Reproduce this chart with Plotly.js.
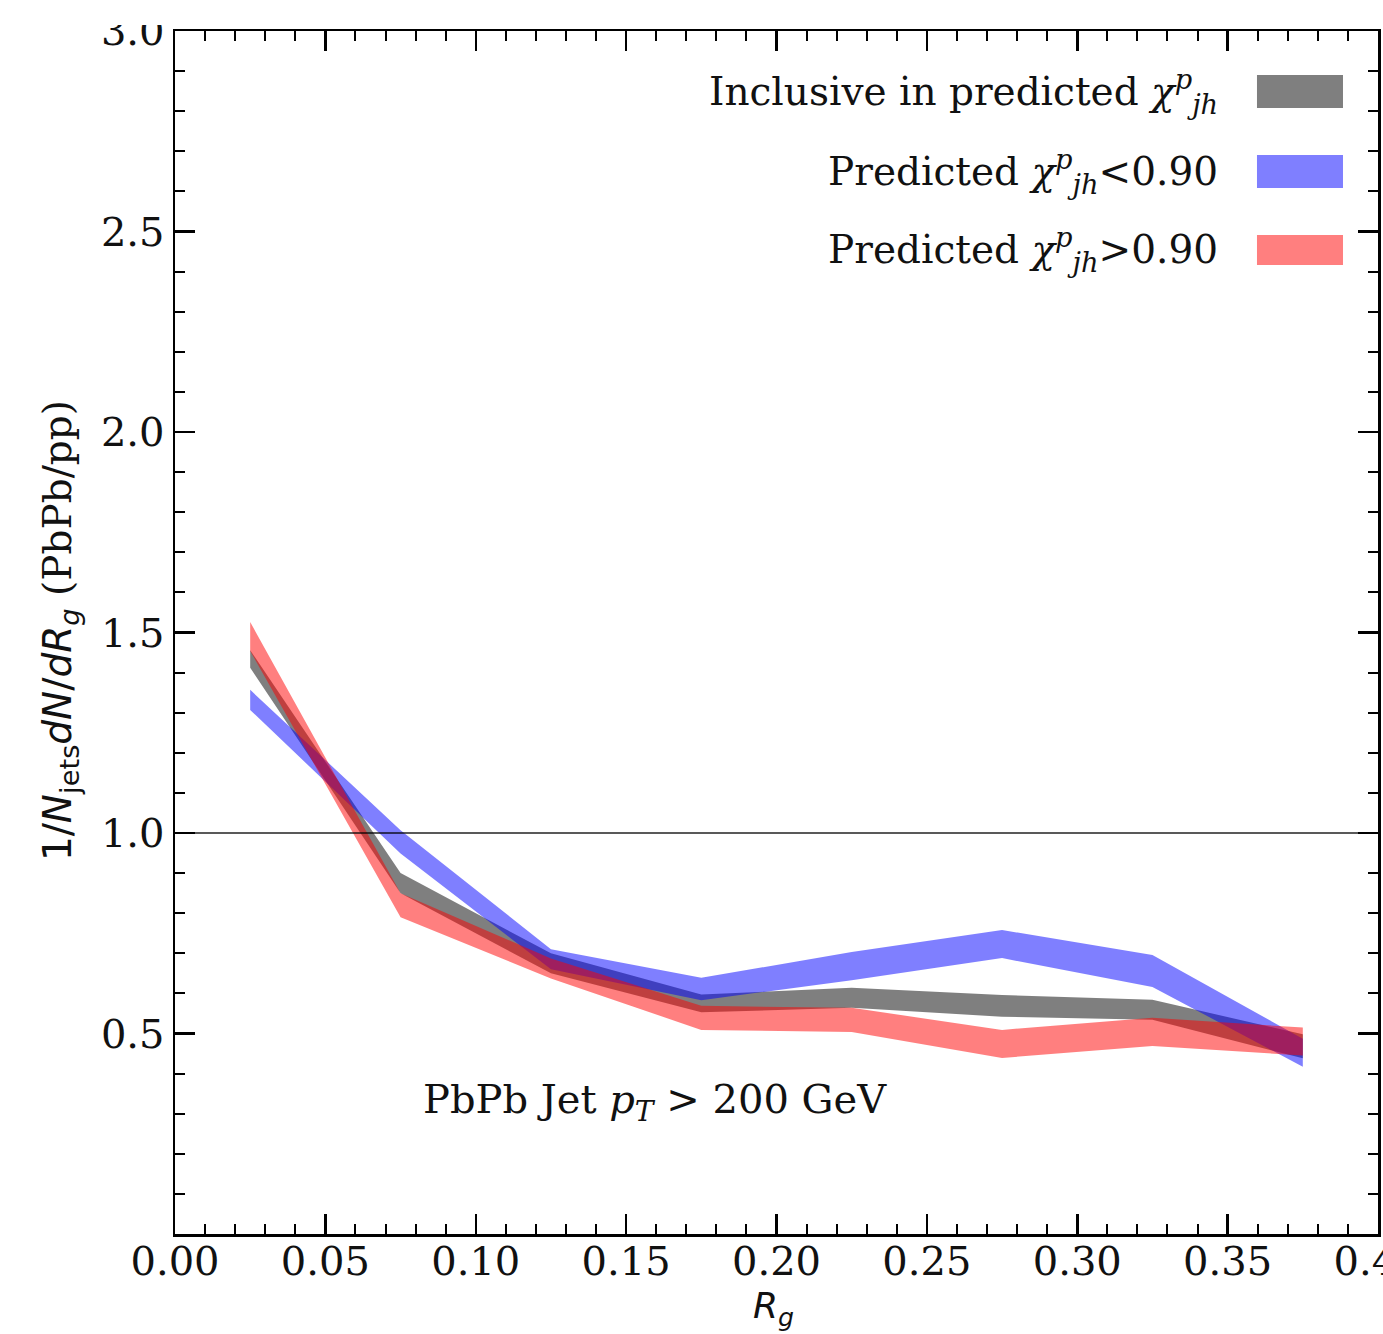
<!DOCTYPE html>
<html>
<head>
<meta charset="utf-8">
<script src="https://cdn.plot.ly/plotly-3.0.1.min.js"></script>
<style>
html,body{margin:0;padding:0;background:#fff;overflow:hidden;width:1383px;height:1334px;}
#chart{position:absolute;left:0;top:25px;width:1383px;height:1309px;}
</style>
</head>
<body>
<div id="chart"></div>
<script>
// Bin centres of R_g
const rg = [0.025, 0.075, 0.125, 0.175, 0.225, 0.275, 0.325, 0.375];

// Inclusive in predicted chi_jh^p (grey)
const inclusiveMid  = [1.434, 0.875, 0.675, 0.575, 0.589, 0.569, 0.559, 0.468];
const inclusiveHalf = [0.022, 0.025, 0.025, 0.022, 0.025, 0.027, 0.025, 0.030];

// Predicted chi_jh^p < 0.90 (blue)
const lowMid  = [1.332, 0.978, 0.685, 0.611, 0.668, 0.723, 0.656, 0.452];
const lowHalf = [0.025, 0.029, 0.025, 0.028, 0.035, 0.035, 0.040, 0.035];

// Predicted chi_jh^p > 0.90 (red)
const highMid  = [1.490, 0.820, 0.662, 0.539, 0.534, 0.474, 0.504, 0.480];
const highHalf = [0.036, 0.030, 0.025, 0.030, 0.030, 0.035, 0.035, 0.035];

const legendLabels = [
  'Inclusive in predicted <i>χ</i><sup><i>p</i></sup><sub><i>jh</i></sub>',
  'Predicted <i>χ</i><sup><i>p</i></sup><sub><i>jh</i></sub>&lt;0.90',
  'Predicted <i>χ</i><sup><i>p</i></sup><sub><i>jh</i></sub>&gt;0.90'
];
const colors = ['rgba(0,0,0,0.5)', 'rgba(0,0,255,0.5)', 'rgba(255,0,0,0.5)'];

const xTickVals = [0, 0.05, 0.10, 0.15, 0.20, 0.25, 0.30, 0.35, 0.40];
const xTickText = ['0.00','0.05','0.10','0.15','0.20','0.25','0.30','0.35','0.40'];
const yTickVals = [0.5, 1.0, 1.5, 2.0, 2.5, 3.0];
const yTickText = ['0.5','1.0','1.5','2.0','2.5','3.0'];

function band(mid, half, color) {
  const up = mid.map((v, i) => v + half[i]);
  const lo = mid.map((v, i) => v - half[i]);
  return {
    x: rg.concat(rg.slice().reverse()),
    y: up.concat(lo.slice().reverse()),
    type: 'scatter', mode: 'lines', fill: 'toself',
    fillcolor: color, line: {width: 0, color: 'rgba(0,0,0,0)'},
    hoverinfo: 'skip', showlegend: false
  };
}

const traces = [
  band(inclusiveMid, inclusiveHalf, colors[0]),
  band(lowMid, lowHalf, colors[1]),
  band(highMid, highHalf, colors[2])
];

const serif = 'DejaVu Serif, serif';
const axisCommon = {
  showline: true, linewidth: 2.5, linecolor: '#000', mirror: 'allticks',
  ticks: 'inside', ticklen: 20, tickwidth: 2.5, tickcolor: '#000',
  showgrid: false, zeroline: false, ticklabeloverflow: 'allow',
  tickfont: {family: serif, size: 40, color: '#111'}
};

const rowY = [0.949, 0.883, 0.818];
const patchY = [[0.936, 0.9634], [0.8695, 0.8969], [0.8055, 0.8304]];

const annotations = legendLabels.map((t, i) => ({
  text: t, xref: 'paper', yref: 'paper', x: 0.8687, y: rowY[i],
  xanchor: 'right', yanchor: 'middle', showarrow: false,
  font: {family: serif, size: 39, color: '#111'}
}));
annotations.push({
  text: 'PbPb Jet <i>p</i><sub><i>T</i></sub> &gt; 200 GeV', xref: 'paper', yref: 'paper',
  x: 0.399, y: 0.11, xanchor: 'center', yanchor: 'middle', showarrow: false,
  font: {family: serif, size: 40, color: '#111'}
});
annotations.push({
  text: '<span style="font-family:DejaVu Sans">1/<i>N</i><sub>jets</sub><i>dN</i>/<i>dR</i><sub><i>g</i></sub></span> (PbPb/pp)',
  xref: 'paper', yref: 'paper', x: -0.0956, y: 0.502, textangle: -90,
  xanchor: 'center', yanchor: 'middle', showarrow: false,
  font: {family: serif, size: 39, color: '#111'}
});
annotations.push({
  text: '<span style="font-family:DejaVu Sans"><i>R</i><sub><i>g</i></sub></span>',
  xref: 'paper', yref: 'paper', x: 0.4975, y: -0.062,
  xanchor: 'center', yanchor: 'middle', showarrow: false,
  font: {family: serif, size: 36, color: '#111'}
});

const shapes = patchY.map((p, i) => ({
  type: 'rect', xref: 'paper', yref: 'paper', x0: 0.8994, x1: 0.9709, y0: p[0], y1: p[1],
  fillcolor: colors[i], line: {width: 0}, layer: 'above'
}));
shapes.push({
  type: 'line', xref: 'paper', yref: 'y', x0: 0, x1: 1, y0: 1, y1: 1,
  line: {color: 'rgba(0,0,0,0.65)', width: 2}, layer: 'above'
});

const layout = {
  width: 1383, height: 1309,
  margin: {l: 175, r: 5, t: 6, b: 100},
  paper_bgcolor: '#fff', plot_bgcolor: '#fff',
  showlegend: false,
  xaxis: Object.assign({}, axisCommon, {
    range: [0, 0.4], tickvals: xTickVals, ticktext: xTickText, ticklabelstandoff: -10,
    minor: {dtick: 0.01, tick0: 0, ticks: 'inside', ticklen: 10, tickwidth: 2, tickcolor: '#000', showgrid: false}
  }),
  yaxis: Object.assign({}, axisCommon, {
    range: [0, 3], tickvals: yTickVals, ticktext: yTickText,
    minor: {dtick: 0.1, tick0: 0, ticks: 'inside', ticklen: 10, tickwidth: 2, tickcolor: '#000', showgrid: false}
  }),
  annotations: annotations,
  shapes: shapes
};

Plotly.newPlot('chart', traces, layout, {staticPlot: true, displayModeBar: false});
</script>
</body>
</html>
